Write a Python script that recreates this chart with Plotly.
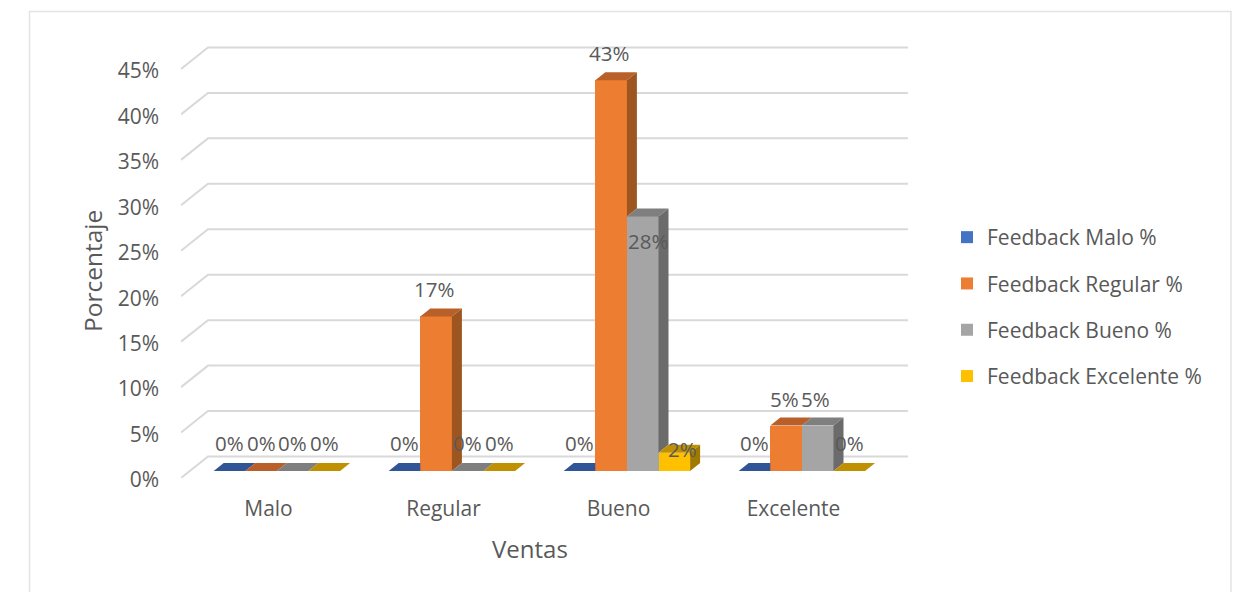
import plotly.graph_objects as go

# Chart data
categories = ["Malo", "Regular", "Bueno", "Excelente"]
series_names = ["Feedback Malo %", "Feedback Regular %", "Feedback Bueno %", "Feedback Excelente %"]
feedback_malo = [0, 0, 0, 0]
feedback_regular = [0, 17, 43, 5]
feedback_bueno = [0, 0, 28, 5]
feedback_excelente = [0, 0, 2, 0]
y_ticks = [0, 5, 10, 15, 20, 25, 30, 35, 40, 45]
series_values = [feedback_malo, feedback_regular, feedback_bueno, feedback_excelente]

# Colours per series: front, top and side faces
front_colors = ["#4472C4", "#ED7D31", "#A5A5A5", "#FFC000"]
top_colors = ["#2F5597", "#B9602A", "#7F7F7F", "#BF9000"]
side_colors = ["#264478", "#9E5620", "#6B6B6B", "#A07A00"]
TEXT = "#595959"
FONT = "Open Sans"
FS = 21

# Page geometry, pixels
W, H = 1233, 592
L, R, T, B = 181, 908, 40, 478
PX_X = 175.0   # one category
PX_Y = 9.09    # one percentage point

# Oblique projection expressed in data units
wall_dx, wall_dy = 27 / PX_X, 21.5 / PX_Y
bar_dx, bar_dy = 10 / PX_X, 8 / PX_Y
floor = 7 / PX_Y
bar_w = 31.6 / PX_X
group_shift = 8.4 / PX_X

x_range = [-0.5, -0.5 + (R - L) / PX_X]
y_range = [0, (B - T) / PX_Y]


def bar_left(cat, ser):
    return cat + group_shift + (ser - 2) * bar_w


fig = go.Figure()

# Front faces
for s, name in enumerate(series_names):
    fig.add_trace(go.Bar(
        x=list(range(len(categories))),
        y=series_values[s],
        base=[floor] * len(categories),
        width=bar_w,
        offset=group_shift + (s - 2) * bar_w,
        name=name,
        legendgroup=name,
        marker=dict(color=front_colors[s], line=dict(width=0)),
        hoverinfo="skip",
    ))

# Top and side faces, projected from each value
for s in range(len(series_names)):
    top_x, top_y, side_x, side_y = [], [], [], []
    for c in range(len(categories)):
        v = series_values[s][c]
        nxt = series_values[s + 1][c] if s + 1 < len(series_values) else 0
        x0 = bar_left(c, s)
        x1 = x0 + bar_w
        t = floor + v
        if nxt > v:
            # the taller neighbour hides the right corner of this top face
            top_x += [x0, x1, x1, x0 + bar_dx, x0, None]
            top_y += [t, t, t + bar_dy, t + bar_dy, t, None]
        else:
            top_x += [x0, x1, x1 + bar_dx, x0 + bar_dx, x0, None]
            top_y += [t, t, t + bar_dy, t + bar_dy, t, None]
            if v > nxt:
                low = floor + nxt
                side_x += [x1, x1 + bar_dx, x1 + bar_dx, x1, x1, None]
                side_y += [low, low + bar_dy, t + bar_dy, t, low, None]
    fig.add_trace(go.Scatter(x=top_x, y=top_y, mode="lines", fill="toself",
                             fillcolor=top_colors[s], line=dict(width=0),
                             showlegend=False, hoverinfo="skip"))
    if side_x:
        fig.add_trace(go.Scatter(x=side_x, y=side_y, mode="lines", fill="toself",
                                 fillcolor=side_colors[s], line=dict(width=0),
                                 showlegend=False, hoverinfo="skip"))

# Back wall gridlines with their slanted run on the side wall
shapes = []
for tick in y_ticks:
    shapes.append(dict(
        type="path", layer="below", xref="x", yref="y",
        path=f"M {x_range[0]} {tick} L {x_range[0] + wall_dx} {tick + wall_dy} L {x_range[1]} {tick + wall_dy}",
        line=dict(color="#D9D9D9", width=2),
    ))

# Chart frame, its bottom edge runs past the page
def px_to_paper_x(p):
    return (p - L) / (R - L)


def px_to_paper_y(p):
    return (B - p) / (B - T)


shapes.append(dict(
    type="rect", layer="below", xref="paper", yref="paper",
    x0=px_to_paper_x(29.5), x1=px_to_paper_x(1231),
    y0=px_to_paper_y(620), y1=px_to_paper_y(11.5),
    line=dict(color="#E3E3E3", width=1.5),
))

# Data labels, most sit above the bar; a few are nudged off their default spot
nudges = {(2, 2): (5, -25), (3, 2): (8, 4)}
annotations = []
for s in range(len(series_names)):
    for c in range(len(categories)):
        v = series_values[s][c]
        dx, dy = nudges.get((s, c), (0 if v == 0 else -2, 28 if v == 0 else 27))
        annotations.append(dict(
            x=bar_left(c, s) + bar_w / 2, y=floor + v, xref="x", yref="y",
            text=f"{v}%", showarrow=False, xshift=dx, yshift=dy,
            xanchor="center", yanchor="middle",
            font=dict(family=FONT, size=20.5, color=TEXT),
        ))

# Axis titles
annotations.append(dict(
    x=px_to_paper_x(530), y=px_to_paper_y(548), xref="paper", yref="paper",
    text="Ventas", showarrow=False, xanchor="center", yanchor="middle",
    font=dict(family=FONT, size=24, color=TEXT),
))
annotations.append(dict(
    x=px_to_paper_x(92), y=px_to_paper_y(271), xref="paper", yref="paper",
    text="Porcentaje", showarrow=False, textangle=-90, xanchor="center", yanchor="middle",
    font=dict(family=FONT, size=24.5, color=TEXT),
))

fig.update_layout(
    width=W, height=H,
    margin=dict(l=L, r=W - R, t=T, b=H - B, pad=0),
    paper_bgcolor="white", plot_bgcolor="white",
    barmode="overlay",
    bargap=0,
    shapes=shapes,
    annotations=annotations,
    xaxis=dict(
        range=x_range, tickmode="array", tickvals=list(range(len(categories))),
        ticktext=categories, showgrid=False, zeroline=False, showline=False,
        ticks="", ticklabelstandoff=16,
        tickfont=dict(family=FONT, size=FS, color=TEXT),
    ),
    yaxis=dict(
        range=y_range, tickmode="array", tickvals=y_ticks,
        ticktext=[f"{t}%" for t in y_ticks], showgrid=False, zeroline=False, showline=False,
        ticks="", ticklabelstandoff=21, ticklabelshift=2,
        tickfont=dict(family=FONT, size=FS, color=TEXT),
    ),
    legend=dict(
        x=px_to_paper_x(947), y=px_to_paper_y(217), xanchor="left", yanchor="top",
        font=dict(family=FONT, size=FS, color=TEXT),
        tracegroupgap=16, bgcolor="rgba(0,0,0,0)",
        itemclick=False, itemdoubleclick=False,
    ),
    showlegend=True,
)

fig.write_html("out.html")
